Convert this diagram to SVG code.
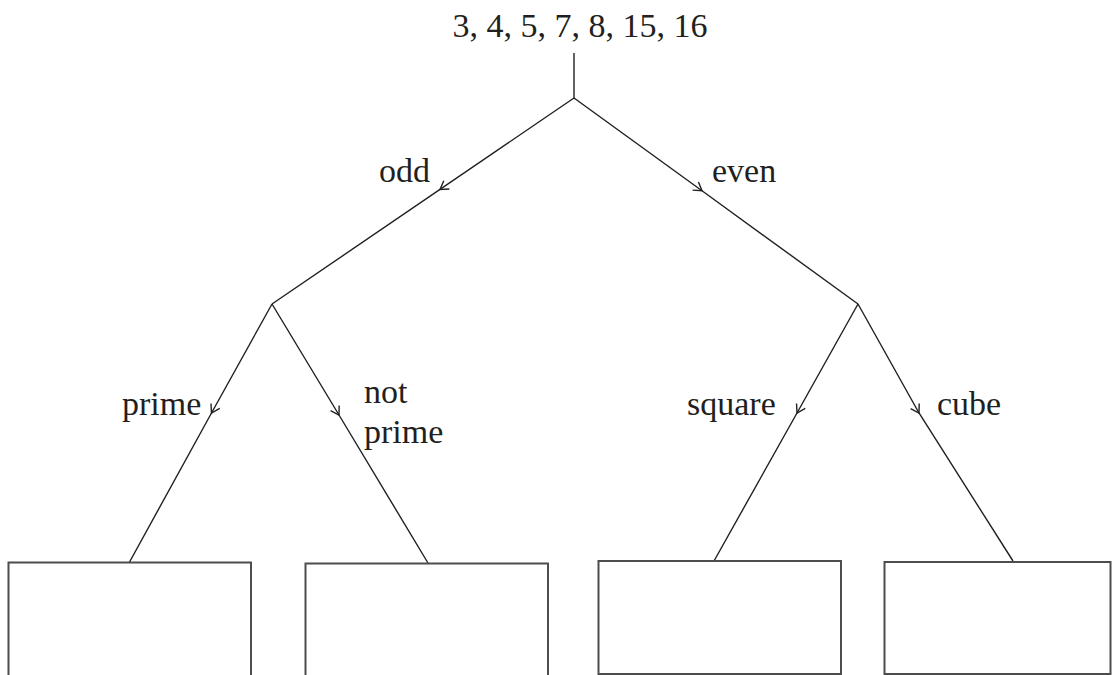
<svg xmlns="http://www.w3.org/2000/svg" width="1117" height="675" viewBox="0 0 1117 675">
  <style>
    text { font-family: "Liberation Serif", "Times New Roman", serif; font-size: 34px; fill: #231f20; }
    .edge { fill: none; stroke: #231f20; stroke-width: 1.4; marker-mid: url(#chev); }
    .stem { fill: none; stroke: #231f20; stroke-width: 1.4; }
    .box { fill: #ffffff; stroke: #4d4d4d; stroke-width: 2; }
  </style>
  <defs>
    <marker id="chev" markerUnits="userSpaceOnUse" markerWidth="20" markerHeight="20" refX="0" refY="0" viewBox="-10 -10 20 20" orient="auto">
      <path d="M-8,-5 L0,0 L-8,5" fill="none" stroke="#231f20" stroke-width="1.4"/>
    </marker>
  </defs>

  <rect width="1117" height="675" fill="#ffffff"/>

  <g id="root">
    <text x="580" y="37" text-anchor="middle">3, 4, 5, 7, 8, 15, 16</text>
  </g>

  <g id="connectors">
    <path class="stem" d="M574,53 L574,98"/>
    <path class="edge" d="M574,98 L440,189.4 L272,304"/>
    <path class="edge" d="M574,98 L702,190.8 L858,304"/>
    <path class="edge" d="M272,304 L211.5,413 L129,563"/>
    <path class="edge" d="M272,304 L339,415 L428,563"/>
    <path class="edge" d="M858,304 L797,413 L714,561"/>
    <path class="edge" d="M858,304 L919,413 L1013,561"/>
  </g>

  <g id="label-odd"><text x="379" y="182">odd</text></g>
  <g id="label-even"><text x="712" y="182">even</text></g>
  <g id="label-prime"><text x="122" y="415">prime</text></g>
  <g id="label-not-prime">
    <text x="364" y="403">not</text>
    <text x="364" y="443">prime</text>
  </g>
  <g id="label-square"><text x="687" y="415">square</text></g>
  <g id="label-cube"><text x="937" y="415">cube</text></g>

  <g id="box-odd-prime"><rect class="box" x="8.5" y="562.5" width="242.5" height="130"/></g>
  <g id="box-odd-not-prime"><rect class="box" x="305.5" y="563.5" width="242.5" height="130"/></g>
  <g id="box-even-square"><rect class="box" x="598.5" y="561" width="242.5" height="113"/></g>
  <g id="box-even-cube"><rect class="box" x="884.5" y="562" width="226" height="112"/></g>
</svg>
